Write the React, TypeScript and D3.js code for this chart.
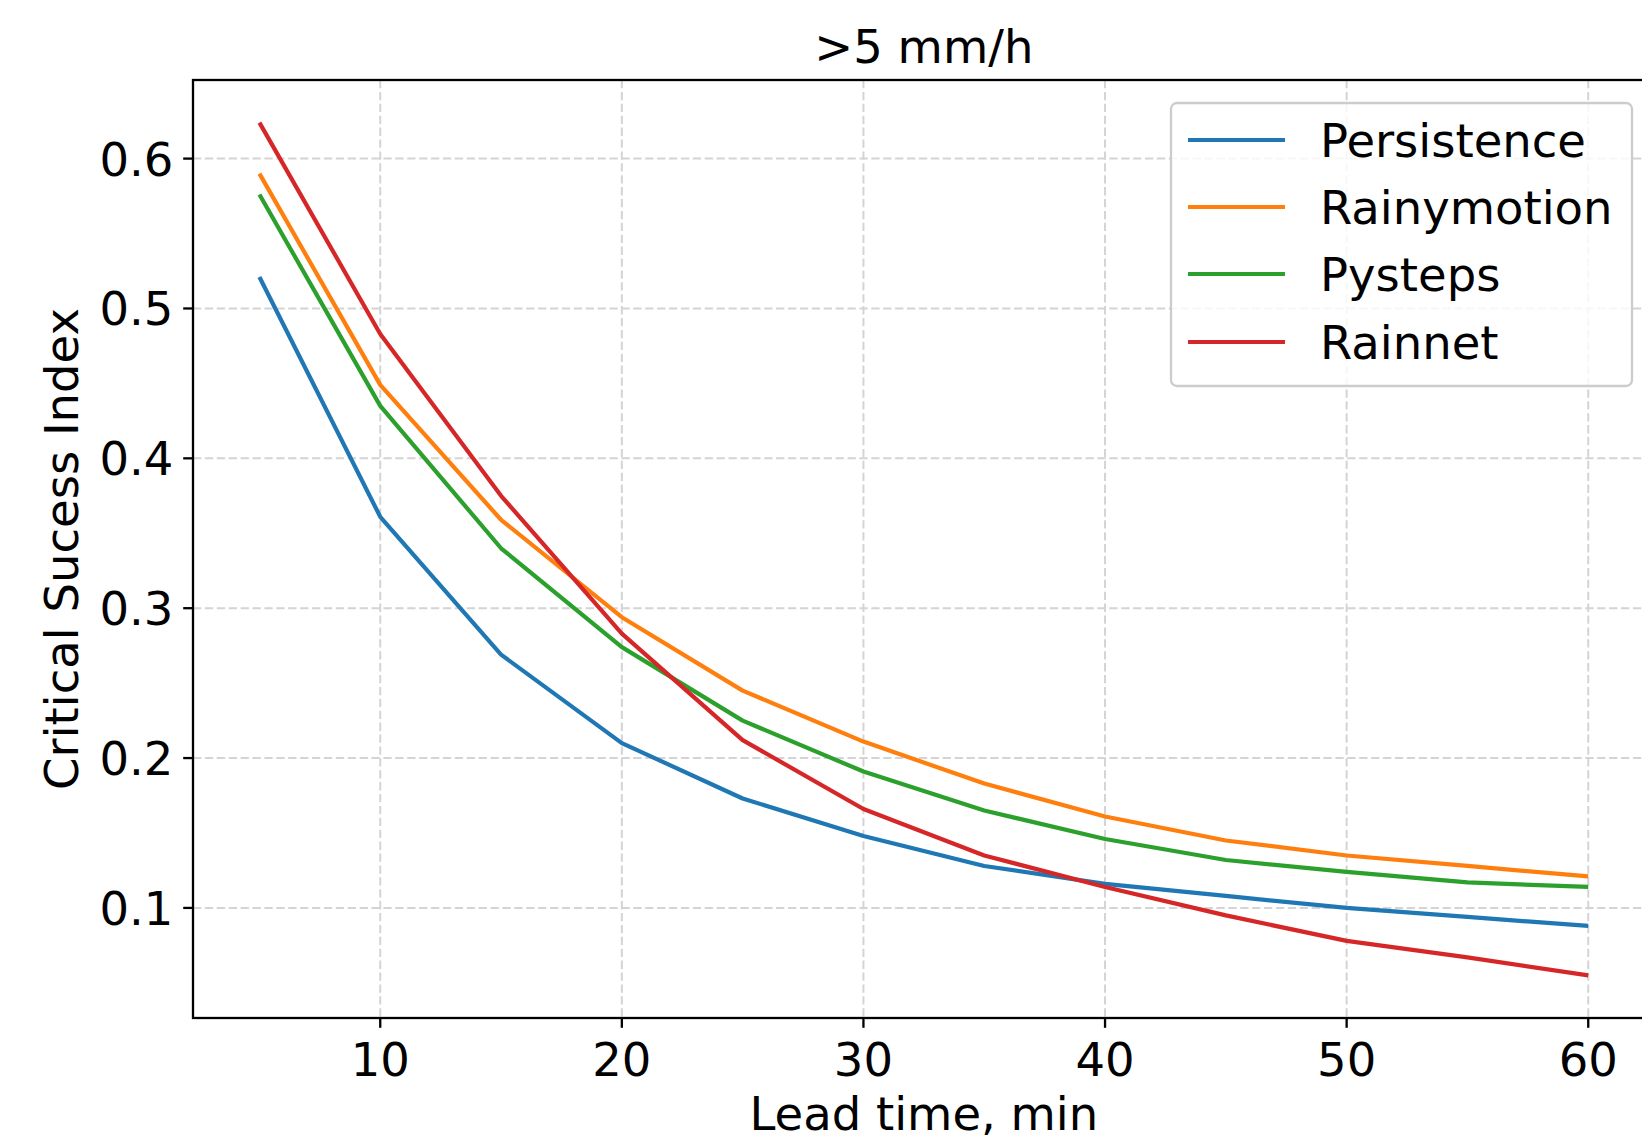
import React from "react";
import * as d3 from "d3";

const leadTimes = [5, 10, 15, 20, 25, 30, 35, 40, 45, 50, 55, 60];
const persistence = [0.521, 0.361, 0.269, 0.21, 0.173, 0.148, 0.128, 0.116, 0.108, 0.1, 0.094, 0.088];
const rainymotion = [0.59, 0.449, 0.359, 0.294, 0.245, 0.211, 0.183, 0.161, 0.145, 0.135, 0.128, 0.121];
const pysteps = [0.576, 0.435, 0.34, 0.274, 0.225, 0.191, 0.165, 0.146, 0.132, 0.124, 0.117, 0.114];
const rainnet = [0.624, 0.483, 0.375, 0.283, 0.212, 0.166, 0.135, 0.114, 0.095, 0.078, 0.067, 0.055];

const seriesNames = ["Persistence", "Rainymotion", "Pysteps", "Rainnet"];
const seriesValues = [persistence, rainymotion, pysteps, rainnet];
const seriesColors = ["#1f77b4", "#ff7f0e", "#2ca02c", "#d62728"];

const xTicks = [10, 20, 30, 40, 50, 60];
const yTicks = [0.1, 0.2, 0.3, 0.4, 0.5, 0.6];

const title = ">5 mm/h";
const xLabel = "Lead time, min";
const yLabel = "Critical Sucess Index";

const W = 1642;
const H = 1143;
const FONT = "DejaVu Sans, sans-serif";
const FS = 46.5;

export default function App() {
  const left = 193;
  const top = 80;
  const bottom = 1018;
  const pxPer10 = 241.6;

  const xMin = d3.min(leadTimes)!;
  const xMax = d3.max(leadTimes)!;
  const xPad = (xMax - xMin) * 0.05;
  const allY = seriesValues.flat();
  const yMin = d3.min(allY)!;
  const yMax = d3.max(allY)!;
  const yPad = (yMax - yMin) * 0.05;

  const xDomain: [number, number] = [xMin - xPad, xMax + xPad];
  const right = left + ((xDomain[1] - xDomain[0]) / 10) * pxPer10;

  const x = d3.scaleLinear().domain(xDomain).range([left, right]);
  const y = d3.scaleLinear().domain([yMin - yPad, yMax + yPad]).range([bottom, top]);

  const line = d3
    .line<number>()
    .x((_, i) => x(leadTimes[i]))
    .y((d) => y(d));

  const cx = (left + right) / 2;
  const cy = (top + bottom) / 2;

  const legX = 1171;
  const legY = 103;
  const legW = 461;
  const legH = 283;
  const rowY = [140, 207, 274, 342];
  const base = FS * 0.3645;

  return (
    <svg
      width={W}
      height={H}
      style={{ position: "absolute", left: 0, top: 0, background: "#fff" }}
      fontFamily={FONT}
    >
      <rect x={0} y={0} width={W} height={H} fill="#fff" />
      {/* grid */}
      <g stroke="#d4d4d4" strokeWidth={2} strokeDasharray="8.3,3.6">
        {xTicks.map((t) => (
          <line key={"gx" + t} x1={x(t)} x2={x(t)} y1={top} y2={bottom} />
        ))}
        {yTicks.map((t) => (
          <line key={"gy" + t} x1={left} x2={right} y1={y(t)} y2={y(t)} />
        ))}
      </g>
      {/* series */}
      {seriesValues.map((vals, i) => (
        <path
          key={seriesNames[i]}
          d={line(vals) || ""}
          fill="none"
          stroke={seriesColors[i]}
          strokeWidth={4.2}
          strokeLinejoin="round"
          strokeLinecap="butt"
        />
      ))}
      {/* spines */}
      <g stroke="#000" strokeWidth={2.3} fill="none">
        <rect x={left} y={top} width={right - left} height={bottom - top} />
      </g>
      {/* ticks */}
      <g stroke="#000" strokeWidth={2.3}>
        {xTicks.map((t) => (
          <line key={"tx" + t} x1={x(t)} x2={x(t)} y1={bottom} y2={bottom + 9.8} />
        ))}
        {yTicks.map((t) => (
          <line key={"ty" + t} x1={left - 9.8} x2={left} y1={y(t)} y2={y(t)} />
        ))}
      </g>
      <g fontSize={FS} fill="#000">
        {xTicks.map((t) => (
          <text key={"lx" + t} x={x(t)} y={1075.5} textAnchor="middle">
            {String(t)}
          </text>
        ))}
        {yTicks.map((t) => (
          <text key={"ly" + t} x={173.4} y={y(t) + base} textAnchor="end">
            {t.toFixed(1)}
          </text>
        ))}
      </g>
      {/* labels */}
      <text x={cx} y={63.3} textAnchor="middle" fontSize={FS}>
        {title}
      </text>
      <text x={cx} y={1130} textAnchor="middle" fontSize={FS}>
        {xLabel}
      </text>
      <text
        x={0}
        y={0}
        textAnchor="middle"
        fontSize={FS}
        transform={`translate(77.5, ${cy}) rotate(-90)`}
      >
        {yLabel}
      </text>
      {/* legend */}
      <rect
        x={legX}
        y={legY}
        width={legW}
        height={legH}
        rx={6}
        ry={6}
        fill="#fff"
        fillOpacity={0.8}
        stroke="#cccccc"
        strokeWidth={2.3}
      />
      {seriesNames.map((name, i) => (
        <g key={"leg" + name}>
          <line
            x1={1188}
            x2={1285}
            y1={rowY[i]}
            y2={rowY[i]}
            stroke={seriesColors[i]}
            strokeWidth={4.2}
          />
          <text x={1320} y={rowY[i] + base} fontSize={FS}>
            {name}
          </text>
        </g>
      ))}
    </svg>
  );
}
